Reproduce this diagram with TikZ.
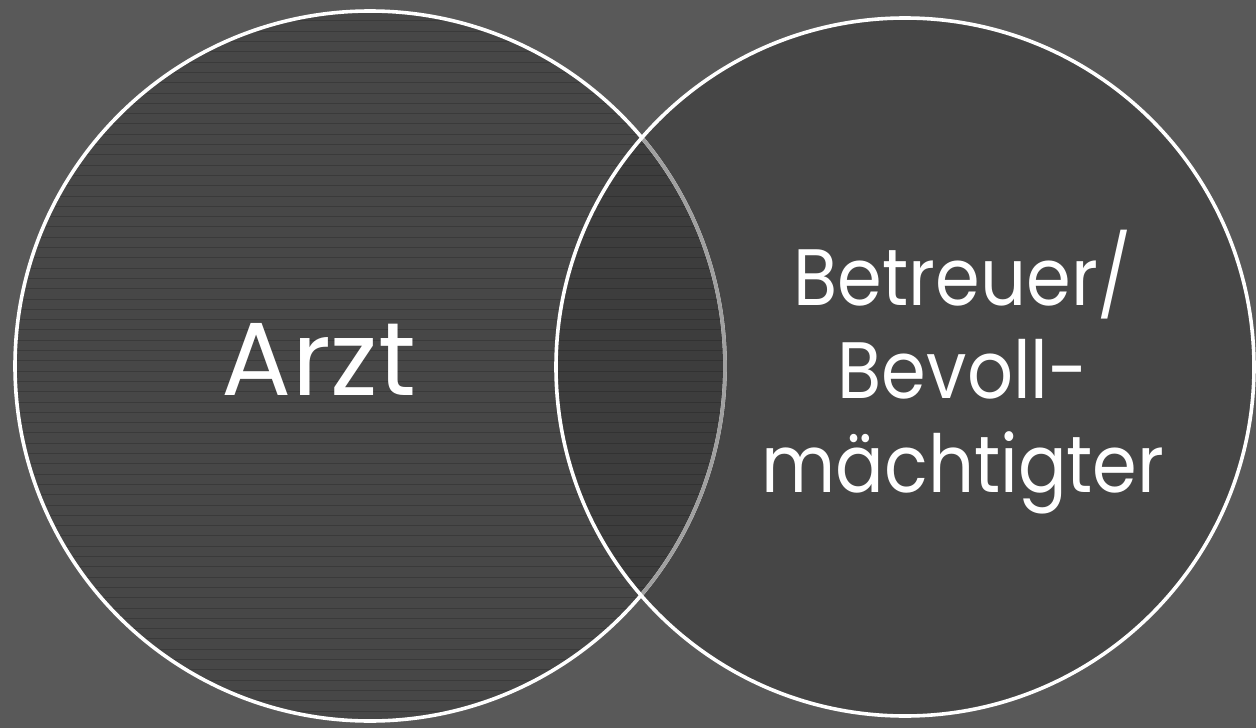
\documentclass[tikz,border=0pt]{standalone}
\usepackage{fontspec}
\setmainfont{Poppins}
\definecolor{bg}{HTML}{595959}
\definecolor{leftfill}{HTML}{474747}
\definecolor{rightfill}{HTML}{464646}
\definecolor{interfill}{HTML}{3D3D3D}
\definecolor{hatch}{HTML}{3A3A3A}
\definecolor{hatchdark}{HTML}{323232}
\definecolor{dimline}{HTML}{A0A0A0}
\tikzset{
  ring/.style={draw=white, line width=3.6pt},
  label/.style={text=white, anchor=base, inner sep=0pt},
  rlabel/.style={label, font=\fontsize{80}{88}\selectfont, xscale=0.9, transform shape},
}
\begin{document}
\begin{tikzpicture}[x=1pt,y=-1pt]
\useasboundingbox (0,0) rectangle (1256,728);
\fill[bg] (0,0) rectangle (1256,728);
% left circle
\fill[leftfill] (370,366) circle[radius=355];
\begin{scope}
  \clip (370,366) circle[radius=355];
  \foreach \k in {0,...,70} {
    \draw[hatch, line width=1pt] (0,{10.3*\k+0.3}) -- (760,{10.3*\k+0.3});
  }
\end{scope}
% right circle
\fill[rightfill] (905,367) circle[radius=349];
% intersection
\begin{scope}
  \clip (370,366) circle[radius=355];
  \fill[interfill] (905,367) circle[radius=349];
  \clip (905,367) circle[radius=349];
  \foreach \k in {0,...,70} {
    \draw[hatchdark, line width=1pt] (0,{10.3*\k+0.3}) -- (760,{10.3*\k+0.3});
  }
\end{scope}
% outlines
\draw[ring] (370,366) circle[radius=355];
\begin{scope}
  \clip (905,367) circle[radius=349];
  \draw[draw=dimline, line width=3.6pt] (370,366) circle[radius=355];
\end{scope}
\draw[ring] (905,367) circle[radius=349];
% texts
\node[label, font=\fontsize{104}{110}\selectfont] (arzt) at (319,395) {Arzt};
\node[rlabel] (b1) at (963,305) {Betreuer/};
\node[rlabel] (b2) at (963,398) {Bevoll-};
\node[rlabel] (b3) at (963,492) {mächtigter};
\end{tikzpicture}
\end{document}
